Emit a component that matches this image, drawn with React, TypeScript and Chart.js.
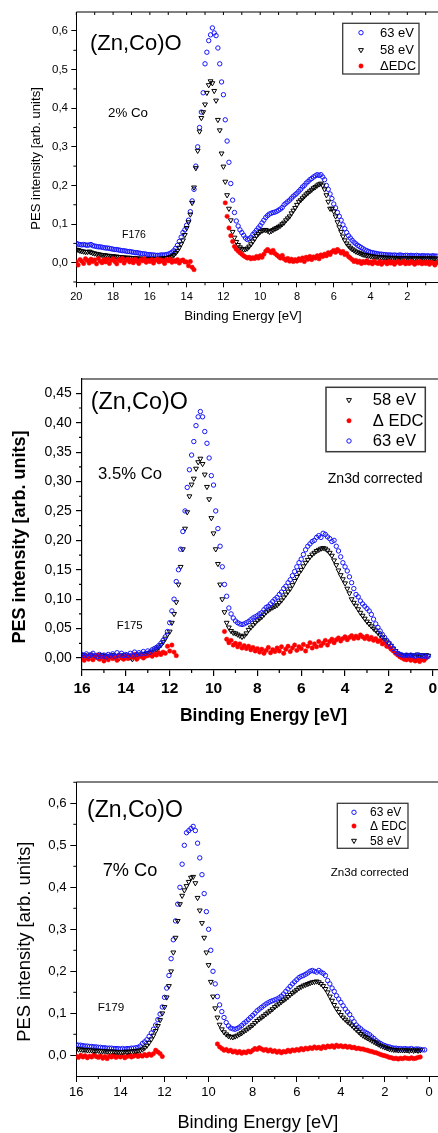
import React, { useEffect, useRef } from "react";
import { Chart, registerables } from "chart.js";

Chart.register(...registerables);

const FF = "'Liberation Sans', Arial, Helvetica, sans-serif";
const f = (size: number, bold = false) => `${bold ? "bold " : ""}${size}px ${FF}`;

// ---------------- tick values ----------------
const P1_XTICKS = [0, 2, 4, 6, 8, 10, 12, 14, 16, 18, 20];
const P1_YTICKS = [0, 0.1, 0.2, 0.3, 0.4, 0.5, 0.6];
const P2_XTICKS = [0, 2, 4, 6, 8, 10, 12, 14, 16];
const P2_YTICKS = [0, 0.05, 0.1, 0.15, 0.2, 0.25, 0.3, 0.35, 0.4, 0.45];
const P3_XTICKS = [0, 2, 4, 6, 8, 10, 12, 14, 16];
const P3_YTICKS = [0, 0.1, 0.2, 0.3, 0.4, 0.5, 0.6];

// ---------------- Panel 1 : 2% Co (F176) ----------------
const P1_ENERGY = [
  20.0, 19.9, 19.8, 19.7, 19.6, 19.5, 19.4, 19.3, 19.2, 19.1,
  19.0, 18.9, 18.8, 18.7, 18.6, 18.5, 18.4, 18.3, 18.2, 18.1,
  18.0, 17.9, 17.8, 17.7, 17.6, 17.5, 17.4, 17.3, 17.2, 17.1,
  17.0, 16.9, 16.8, 16.7, 16.6, 16.5, 16.4, 16.3, 16.2, 16.1,
  16.0, 15.9, 15.8, 15.7, 15.6, 15.5, 15.4, 15.3, 15.2, 15.1,
  15.0, 14.9, 14.8, 14.7, 14.6, 14.5, 14.4, 14.3, 14.2, 14.1,
  14.0, 13.9, 13.8, 13.7, 13.6, 13.5, 13.4, 13.3, 13.2, 13.1,
  13.0, 12.9, 12.8, 12.7, 12.6, 12.5, 12.4, 12.3, 12.2, 12.1,
  12.0, 11.9, 11.8, 11.7, 11.6, 11.5, 11.4, 11.3, 11.2, 11.1,
  11.0, 10.9, 10.8, 10.7, 10.6, 10.5, 10.4, 10.3, 10.2, 10.1,
  10.0, 9.9, 9.8, 9.7, 9.6, 9.5, 9.4, 9.3, 9.2, 9.1,
  9.0, 8.9, 8.8, 8.7, 8.6, 8.5, 8.4, 8.3, 8.2, 8.1,
  8.0, 7.9, 7.8, 7.7, 7.6, 7.5, 7.4, 7.3, 7.2, 7.1,
  7.0, 6.9, 6.8, 6.7, 6.6, 6.5, 6.4, 6.3, 6.2, 6.1,
  6.0, 5.9, 5.8, 5.7, 5.6, 5.5, 5.4, 5.3, 5.2, 5.1,
  5.0, 4.9, 4.8, 4.7, 4.6, 4.5, 4.4, 4.3, 4.2, 4.1,
  4.0, 3.9, 3.8, 3.7, 3.6, 3.5, 3.4, 3.3, 3.2, 3.1,
  3.0, 2.9, 2.8, 2.7, 2.6, 2.5, 2.4, 2.3, 2.2, 2.1,
  2.0, 1.9, 1.8, 1.7, 1.6, 1.5, 1.4, 1.3, 1.2, 1.1,
  1.0, 0.9, 0.8, 0.7, 0.6, 0.5, 0.4,
];
const P1_63EV = [
  0.050, 0.048, 0.047, 0.046, 0.047, 0.046, 0.045, 0.046, 0.047, 0.044,
  0.043, 0.042, 0.041, 0.041, 0.040, 0.039, 0.038, 0.038, 0.037, 0.036,
  0.035, 0.034, 0.034, 0.033, 0.032, 0.031, 0.031, 0.030, 0.029, 0.029,
  0.028, 0.027, 0.026, 0.026, 0.025, 0.024, 0.023, 0.023, 0.022, 0.021,
  0.021, 0.020, 0.020, 0.019, 0.019, 0.019, 0.020, 0.020, 0.020, 0.021,
  0.022, 0.024, 0.027, 0.031, 0.037, 0.045, 0.055, 0.066, 0.078, 0.085,
  0.097, 0.110, 0.132, 0.160, 0.190, 0.250, 0.300, 0.350, 0.390, 0.440,
  0.515, 0.545, 0.575, 0.590, 0.608, 0.595, 0.588, 0.556, 0.515, 0.468,
  0.435, 0.370, 0.315, 0.260, 0.205, 0.162, 0.130, 0.108, 0.095, 0.085,
  0.078, 0.071, 0.064, 0.060, 0.062, 0.066, 0.073, 0.078, 0.084, 0.090,
  0.096, 0.103, 0.110, 0.117, 0.122, 0.126, 0.128, 0.130, 0.131, 0.133,
  0.136, 0.139, 0.143, 0.150, 0.154, 0.158, 0.162, 0.167, 0.172, 0.176,
  0.180, 0.185, 0.190, 0.196, 0.200, 0.206, 0.210, 0.215, 0.218, 0.222,
  0.225, 0.228, 0.226, 0.228, 0.222, 0.215, 0.200, 0.190, 0.178, 0.166,
  0.152, 0.142, 0.130, 0.120, 0.110, 0.098, 0.088, 0.078, 0.070, 0.064,
  0.058, 0.053, 0.049, 0.045, 0.042, 0.039, 0.036, 0.033, 0.031, 0.029,
  0.027, 0.026, 0.025, 0.024, 0.023, 0.022, 0.022, 0.021, 0.021, 0.020,
  0.020, 0.020, 0.019, 0.020, 0.019, 0.019, 0.020, 0.019, 0.018, 0.019,
  0.019, 0.018, 0.019, 0.018, 0.018, 0.019, 0.018, 0.017, 0.018, 0.018,
  0.017, 0.018, 0.017, 0.017, 0.018, 0.017, 0.017,
];
const P1_58EV = [
  0.034, 0.033, 0.031, 0.030, 0.029, 0.028, 0.028, 0.029, 0.027, 0.025,
  0.024, 0.023, 0.022, 0.021, 0.020, 0.020, 0.019, 0.018, 0.018, 0.017,
  0.017, 0.016, 0.016, 0.015, 0.015, 0.014, 0.014, 0.013, 0.013, 0.013,
  0.012, 0.012, 0.012, 0.011, 0.011, 0.011, 0.010, 0.010, 0.010, 0.010,
  0.010, 0.010, 0.010, 0.010, 0.010, 0.010, 0.011, 0.011, 0.012, 0.012,
  0.013, 0.015, 0.017, 0.020, 0.025, 0.031, 0.039, 0.048, 0.058, 0.072,
  0.090, 0.105, 0.125, 0.155, 0.195, 0.245, 0.290, 0.340, 0.375, 0.390,
  0.410, 0.440, 0.460, 0.470, 0.465, 0.445, 0.420, 0.370, 0.343, 0.283,
  0.249, 0.210, 0.175, 0.140, 0.110, 0.080, 0.065, 0.054, 0.046, 0.040,
  0.036, 0.034, 0.035, 0.037, 0.042, 0.048, 0.055, 0.062, 0.070, 0.075,
  0.080, 0.083, 0.085, 0.085, 0.083, 0.080, 0.082, 0.085, 0.088, 0.090,
  0.093, 0.096, 0.100, 0.104, 0.110, 0.115, 0.120, 0.128, 0.135, 0.142,
  0.150, 0.158, 0.162, 0.167, 0.172, 0.177, 0.181, 0.185, 0.189, 0.193,
  0.196, 0.200, 0.203, 0.205, 0.200, 0.190, 0.175, 0.158, 0.140, 0.140,
  0.133, 0.120, 0.105, 0.092, 0.080, 0.068, 0.058, 0.050, 0.044, 0.039,
  0.035, 0.032, 0.029, 0.027, 0.025, 0.023, 0.021, 0.020, 0.019, 0.018,
  0.017, 0.016, 0.016, 0.015, 0.015, 0.014, 0.014, 0.014, 0.013, 0.013,
  0.013, 0.013, 0.012, 0.013, 0.012, 0.012, 0.012, 0.012, 0.012, 0.012,
  0.012, 0.011, 0.012, 0.012, 0.011, 0.012, 0.011, 0.011, 0.012, 0.011,
  0.011, 0.011, 0.012, 0.011, 0.011, 0.011, 0.011,
];
const P1_DEDC = [
  0.002, -0.006, 0.008, 0.004, -0.002, 0.010, 0.006, -0.001, 0.009, 0.003,
  0.007, -0.003, 0.011, 0.004, 0.000, 0.008, 0.002, 0.009, -0.002, 0.006,
  0.010, 0.003, -0.003, 0.008, 0.005, 0.011, -0.001, 0.006, 0.009, 0.002,
  0.007, 0.000, 0.009, 0.004, -0.002, 0.008, 0.005, 0.010, 0.001, 0.006,
  0.003, 0.008, -0.001, 0.006, 0.009, 0.002, 0.007, 0.004, -0.002, 0.008,
  0.005, 0.009, 0.001, 0.006, 0.003, 0.008, -0.001, 0.005, 0.007, 0.002,
  0.002, -0.008, 0.003, -0.012, -0.018, null, null, null, null, null,
  null, null, null, null, null, null, null, null, null, null,
  null, 0.155, 0.120, 0.090, 0.070, 0.055, 0.042, 0.035, 0.030, 0.026,
  0.022, 0.018, 0.015, 0.012, 0.014, 0.010, 0.013, 0.011, 0.016, 0.012,
  0.018, 0.014, 0.022, 0.030, 0.034, 0.030, 0.026, 0.032, 0.024, 0.020,
  0.016, 0.012, 0.019, 0.010, 0.006, 0.011, 0.004, 0.009, 0.003, 0.008,
  0.004, 0.010, 0.006, 0.012, 0.003, 0.014, 0.009, 0.016, 0.008, 0.015,
  0.012, 0.018, 0.010, 0.020, 0.016, 0.022, 0.018, 0.026, 0.021, 0.028,
  0.032, 0.027, 0.034, 0.030, 0.025, 0.029, 0.021, 0.024, 0.016, 0.012,
  0.008, 0.003, 0.006, 0.001, 0.004, -0.002, 0.003, 0.000, 0.005, -0.001,
  0.002, -0.003, 0.004, 0.000, -0.002, 0.003, -0.004, 0.001, 0.002, -0.003,
  0.003, -0.001, 0.002, -0.004, 0.001, 0.003, -0.002, 0.000, 0.004, -0.003,
  0.001, -0.002, 0.003, 0.000, -0.004, 0.002, -0.001, 0.003, -0.003, 0.001,
  -0.002, 0.002, -0.004, 0.001, -0.001, -0.006, 0.000,
];

// ---------------- Panel 2 : 3.5% Co (F175) ----------------
const P2_ENERGY = [
  16.0, 15.9, 15.8, 15.7, 15.6, 15.5, 15.4, 15.3, 15.2, 15.1,
  15.0, 14.9, 14.8, 14.7, 14.6, 14.5, 14.4, 14.3, 14.2, 14.1,
  14.0, 13.9, 13.8, 13.7, 13.6, 13.5, 13.4, 13.3, 13.2, 13.1,
  13.0, 12.9, 12.8, 12.7, 12.6, 12.5, 12.4, 12.3, 12.2, 12.1,
  12.0, 11.9, 11.8, 11.7, 11.6, 11.5, 11.4, 11.3, 11.2, 11.1,
  11.0, 10.9, 10.8, 10.7, 10.6, 10.5, 10.4, 10.3, 10.2, 10.1,
  10.0, 9.9, 9.8, 9.7, 9.6, 9.5, 9.4, 9.3, 9.2, 9.1,
  9.0, 8.9, 8.8, 8.7, 8.6, 8.5, 8.4, 8.3, 8.2, 8.1,
  8.0, 7.9, 7.8, 7.7, 7.6, 7.5, 7.4, 7.3, 7.2, 7.1,
  7.0, 6.9, 6.8, 6.7, 6.6, 6.5, 6.4, 6.3, 6.2, 6.1,
  6.0, 5.9, 5.8, 5.7, 5.6, 5.5, 5.4, 5.3, 5.2, 5.1,
  5.0, 4.9, 4.8, 4.7, 4.6, 4.5, 4.4, 4.3, 4.2, 4.1,
  4.0, 3.9, 3.8, 3.7, 3.6, 3.5, 3.4, 3.3, 3.2, 3.1,
  3.0, 2.9, 2.8, 2.7, 2.6, 2.5, 2.4, 2.3, 2.2, 2.1,
  2.0, 1.9, 1.8, 1.7, 1.6, 1.5, 1.4, 1.3, 1.2, 1.1,
  1.0, 0.9, 0.8, 0.7, 0.6, 0.5, 0.4, 0.3, 0.2,
];
const P2_58EV = [
  0.003, 0.005, 0.002, 0.004, 0.006, 0.002, 0.004, 0.001, 0.003, 0.005,
  0.002, 0.004, 0.001, 0.003, 0.005, 0.002, 0.004, 0.000, 0.003, 0.005,
  0.002, 0.004, 0.001, -0.002, 0.004, 0.003, 0.006, 0.004, 0.007, 0.006,
  0.008, 0.009, 0.011, 0.013, 0.015, 0.018, 0.022, 0.027, 0.033, 0.040,
  0.045, 0.060, 0.075, 0.095, 0.125, 0.155, 0.185, 0.220, 0.248, 0.275,
  0.295, 0.305, 0.322, 0.333, 0.339, 0.330, 0.312, 0.291, 0.270, 0.238,
  0.212, 0.185, 0.160, 0.125, 0.100, 0.078, 0.060, 0.052, 0.046, 0.043,
  0.042, 0.040, 0.038, 0.036, 0.038, 0.042, 0.048, 0.052, 0.056, 0.060,
  0.064, 0.067, 0.070, 0.074, 0.078, 0.081, 0.084, 0.086, 0.088, 0.090,
  0.094, 0.098, 0.103, 0.108, 0.113, 0.118, 0.124, 0.131, 0.138, 0.145,
  0.150, 0.156, 0.162, 0.167, 0.172, 0.176, 0.179, 0.182, 0.184, 0.186,
  0.187, 0.186, 0.183, 0.179, 0.174, 0.166, 0.158, 0.149, 0.141, 0.134,
  0.127, 0.118, 0.110, 0.100, 0.094, 0.089, 0.083, 0.077, 0.072, 0.067,
  0.062, 0.058, 0.054, 0.050, 0.047, 0.043, 0.039, 0.035, 0.031, 0.028,
  0.025, 0.021, 0.016, 0.012, 0.008, 0.006, 0.004, 0.005, 0.004, 0.005,
  0.004, 0.005, 0.003, 0.006, 0.004, 0.005, 0.003, 0.005, 0.004,
];
const P2_DEDC = [
  0.000, -0.004, 0.003, -0.002, 0.004, -0.003, 0.001, 0.005, -0.002, 0.002,
  -0.005, 0.001, -0.003, 0.003, -0.001, 0.002, -0.004, 0.004, 0.000, -0.002,
  0.003, -0.001, 0.004, 0.001, 0.006, -0.002, 0.002, 0.005, 0.000, 0.003,
  0.004, 0.006, 0.003, 0.007, 0.005, 0.009, 0.006, 0.010, 0.008, 0.020,
  0.012, 0.022, 0.010, 0.004, null, null, null, null, null, null,
  null, null, null, null, null, null, null, null, null, null,
  null, null, null, null, null, 0.045, 0.032, 0.026, 0.030, 0.022,
  0.025, 0.019, 0.024, 0.017, 0.021, 0.016, 0.020, 0.014, 0.018, 0.012,
  0.016, 0.010, 0.015, 0.008, 0.013, 0.018, 0.009, 0.014, 0.011, 0.017,
  0.012, 0.019, 0.008, 0.015, 0.020, 0.011, 0.017, 0.022, 0.013, 0.019,
  0.016, 0.023, 0.012, 0.020, 0.026, 0.017, 0.024, 0.019, 0.028, 0.021,
  0.025, 0.030, 0.022, 0.028, 0.032, 0.026, 0.031, 0.034, 0.029, 0.033,
  0.036, 0.031, 0.035, 0.038, 0.033, 0.037, 0.034, 0.039, 0.036, 0.033,
  0.037, 0.032, 0.035, 0.030, 0.033, 0.028, 0.030, 0.024, 0.026, 0.020,
  0.019, 0.015, 0.012, 0.008, 0.005, 0.002, 0.000, -0.002, -0.003, -0.001,
  -0.004, -0.002, -0.005, -0.003, -0.006, -0.002, -0.004, 0.000, null,
];
const P2_63EV = [
  0.006, 0.004, 0.007, 0.003, 0.005, 0.008, 0.004, 0.002, 0.006, 0.003,
  0.005, 0.002, 0.006, 0.004, 0.007, 0.003, 0.009, 0.005, 0.008, 0.004,
  0.006, 0.004, 0.008, 0.005, 0.010, 0.006, 0.009, 0.007, 0.011, 0.008,
  0.012, 0.010, 0.014, 0.016, 0.018, 0.021, 0.025, 0.030, 0.036, 0.045,
  0.060, 0.080, 0.100, 0.130, 0.150, 0.185, 0.215, 0.250, 0.290, 0.320,
  0.345, 0.368, 0.395, 0.410, 0.419, 0.410, 0.385, 0.365, 0.340, 0.310,
  0.294, 0.250, 0.220, 0.190, 0.155, 0.125, 0.105, 0.085, 0.075, 0.068,
  0.063, 0.060, 0.058, 0.057, 0.058, 0.060, 0.062, 0.065, 0.068, 0.070,
  0.072, 0.075, 0.077, 0.082, 0.086, 0.088, 0.092, 0.096, 0.100, 0.103,
  0.108, 0.112, 0.118, 0.122, 0.128, 0.133, 0.140, 0.147, 0.155, 0.162,
  0.168, 0.176, 0.184, 0.190, 0.194, 0.198, 0.200, 0.205, 0.208, 0.205,
  0.212, 0.210, 0.206, 0.203, 0.198, 0.200, 0.190, 0.182, 0.172, 0.162,
  0.155, 0.148, 0.138, 0.128, 0.118, 0.108, 0.104, 0.097, 0.092, 0.088,
  0.084, 0.080, 0.074, 0.066, 0.058, 0.052, 0.046, 0.040, 0.035, 0.030,
  0.025, 0.020, 0.016, 0.011, 0.008, 0.006, 0.005, 0.004, 0.005, 0.004,
  0.005, 0.004, 0.003, 0.005, 0.004, 0.003, 0.004, 0.002, 0.003,
];

// ---------------- Panel 3 : 7% Co (F179) ----------------
const P3_ENERGY = [
  16.0, 15.9, 15.8, 15.7, 15.6, 15.5, 15.4, 15.3, 15.2, 15.1,
  15.0, 14.9, 14.8, 14.7, 14.6, 14.5, 14.4, 14.3, 14.2, 14.1,
  14.0, 13.9, 13.8, 13.7, 13.6, 13.5, 13.4, 13.3, 13.2, 13.1,
  13.0, 12.9, 12.8, 12.7, 12.6, 12.5, 12.4, 12.3, 12.2, 12.1,
  12.0, 11.9, 11.8, 11.7, 11.6, 11.5, 11.4, 11.3, 11.2, 11.1,
  11.0, 10.9, 10.8, 10.7, 10.6, 10.5, 10.4, 10.3, 10.2, 10.1,
  10.0, 9.9, 9.8, 9.7, 9.6, 9.5, 9.4, 9.3, 9.2, 9.1,
  9.0, 8.9, 8.8, 8.7, 8.6, 8.5, 8.4, 8.3, 8.2, 8.1,
  8.0, 7.9, 7.8, 7.7, 7.6, 7.5, 7.4, 7.3, 7.2, 7.1,
  7.0, 6.9, 6.8, 6.7, 6.6, 6.5, 6.4, 6.3, 6.2, 6.1,
  6.0, 5.9, 5.8, 5.7, 5.6, 5.5, 5.4, 5.3, 5.2, 5.1,
  5.0, 4.9, 4.8, 4.7, 4.6, 4.5, 4.4, 4.3, 4.2, 4.1,
  4.0, 3.9, 3.8, 3.7, 3.6, 3.5, 3.4, 3.3, 3.2, 3.1,
  3.0, 2.9, 2.8, 2.7, 2.6, 2.5, 2.4, 2.3, 2.2, 2.1,
  2.0, 1.9, 1.8, 1.7, 1.6, 1.5, 1.4, 1.3, 1.2, 1.1,
  1.0, 0.9, 0.8, 0.7, 0.6, 0.5, 0.4, 0.3, 0.2,
];
const P3_63EV = [
  0.025, 0.024, 0.024, 0.023, 0.022, 0.022, 0.021, 0.021, 0.020, 0.020,
  0.019, 0.019, 0.018, 0.018, 0.017, 0.017, 0.017, 0.016, 0.016, 0.016,
  0.015, 0.016, 0.015, 0.016, 0.016, 0.017, 0.017, 0.018, 0.019, 0.022,
  0.028, 0.032, 0.037, 0.045, 0.053, 0.062, 0.072, 0.085, 0.098, 0.115,
  0.138, 0.160, 0.190, 0.230, 0.275, 0.320, 0.360, 0.400, 0.455, 0.500,
  0.530, 0.535, 0.540, 0.545, 0.535, 0.505, 0.470, 0.430, 0.385, 0.342,
  0.300, 0.250, 0.200, 0.170, 0.140, 0.120, 0.104, 0.090, 0.078, 0.070,
  0.065, 0.063, 0.062, 0.064, 0.067, 0.071, 0.076, 0.080, 0.085, 0.090,
  0.095, 0.100, 0.106, 0.110, 0.114, 0.118, 0.122, 0.125, 0.128, 0.130,
  0.132, 0.134, 0.137, 0.141, 0.146, 0.152, 0.158, 0.164, 0.170, 0.175,
  0.180, 0.185, 0.188, 0.190, 0.193, 0.196, 0.200, 0.202, 0.200, 0.198,
  0.202, 0.198, 0.195, 0.190, 0.178, 0.170, 0.160, 0.152, 0.142, 0.134,
  0.126, 0.118, 0.110, 0.103, 0.097, 0.088, 0.080, 0.072, 0.067, 0.063,
  0.058, 0.055, 0.052, 0.049, 0.044, 0.040, 0.035, 0.031, 0.028, 0.025,
  0.023, 0.021, 0.020, 0.018, 0.017, 0.017, 0.016, 0.016, 0.015, 0.016,
  0.015, 0.015, 0.016, 0.014, 0.015, 0.015, 0.014, 0.013, 0.013,
];
const P3_DEDC = [
  -0.002, -0.005, 0.000, -0.004, -0.001, -0.006, -0.002, -0.004, 0.001, -0.003,
  -0.005, -0.001, -0.007, -0.003, -0.008, -0.002, -0.004, 0.000, -0.005, -0.002,
  -0.004, -0.001, -0.006, -0.003, 0.000, -0.004, -0.002, 0.001, -0.003, 0.000,
  -0.002, 0.002, -0.001, 0.003, 0.000, 0.004, 0.012, 0.008, 0.004, -0.003,
  null, null, null, null, null, null, null, null, null, null,
  null, null, null, null, null, null, null, null, null, null,
  null, null, null, null, 0.027, 0.020, 0.016, 0.012, 0.014, 0.010,
  0.012, 0.008, 0.010, 0.006, 0.009, 0.005, 0.008, 0.006, 0.010, 0.008,
  0.012, 0.016, 0.014, 0.018, 0.015, 0.012, 0.014, 0.010, 0.013, 0.009,
  0.011, 0.007, 0.010, 0.006, 0.009, 0.008, 0.012, 0.009, 0.013, 0.011,
  0.014, 0.012, 0.016, 0.013, 0.017, 0.015, 0.018, 0.016, 0.020, 0.017,
  0.019, 0.016, 0.021, 0.018, 0.022, 0.020, 0.023, 0.019, 0.024, 0.021,
  0.023, 0.020, 0.022, 0.019, 0.021, 0.018, 0.019, 0.016, 0.017, 0.015,
  0.015, 0.013, 0.012, 0.010, 0.009, 0.007, 0.006, 0.004, 0.002, 0.000,
  -0.001, -0.003, -0.005, -0.006, -0.008, -0.007, -0.009, -0.007, -0.008, -0.006,
  -0.007, -0.008, -0.006, -0.008, -0.007, -0.005, -0.004, null, null,
];
const P3_58EV = [
  0.015, 0.014, 0.014, 0.013, 0.013, 0.012, 0.012, 0.012, 0.011, 0.011,
  0.011, 0.010, 0.010, 0.010, 0.009, 0.009, 0.009, 0.009, 0.008, 0.008,
  0.008, 0.008, 0.009, 0.008, 0.009, 0.009, 0.010, 0.010, 0.011, 0.012,
  0.014, 0.018, 0.023, 0.030, 0.038, 0.047, 0.058, 0.070, 0.084, 0.100,
  0.115, 0.138, 0.165, 0.200, 0.245, 0.280, 0.320, 0.360, 0.380, 0.393,
  0.403, 0.413, 0.423, 0.425, 0.410, 0.375, 0.345, 0.315, 0.280, 0.245,
  0.215, 0.175, 0.140, 0.112, 0.090, 0.073, 0.062, 0.055, 0.050, 0.046,
  0.044, 0.043, 0.045, 0.047, 0.050, 0.053, 0.057, 0.060, 0.064, 0.068,
  0.072, 0.077, 0.082, 0.086, 0.090, 0.094, 0.098, 0.102, 0.106, 0.110,
  0.115, 0.119, 0.123, 0.127, 0.131, 0.135, 0.139, 0.144, 0.148, 0.152,
  0.156, 0.160, 0.163, 0.166, 0.168, 0.170, 0.172, 0.174, 0.175, 0.176,
  0.174, 0.170, 0.165, 0.158, 0.150, 0.140, 0.130, 0.120, 0.111, 0.103,
  0.096, 0.090, 0.085, 0.080, 0.076, 0.071, 0.066, 0.061, 0.056, 0.051,
  0.047, 0.044, 0.041, 0.038, 0.035, 0.032, 0.029, 0.026, 0.023, 0.021,
  0.019, 0.017, 0.015, 0.014, 0.013, 0.013, 0.012, 0.012, 0.012, 0.012,
  0.012, 0.011, 0.012, 0.011, 0.012, 0.011, 0.012, null, null,
];

// ---------------- styles ----------------
type Kind = "c63" | "t58" | "dEDC";
const MARK: Record<Kind, { style: string; r: number; stroke: string; fill: string; lw: number; rot: number }> = {
  c63: { style: "circle", r: 2.2, stroke: "#1414ff", fill: "rgba(0,0,0,0)", lw: 1, rot: 0 },
  t58: { style: "triangle", r: 2.8, stroke: "#000000", fill: "rgba(0,0,0,0)", lw: 1, rot: 180 },
  dEDC: { style: "circle", r: 2.2, stroke: "#ff0000", fill: "#ff0000", lw: 0.5, rot: 0 },
};

interface SeriesCfg { kind: Kind; label: string; values: (number | null)[] }
interface TextCfg { text: string; x: number; y: number; font: string; align?: CanvasTextAlign; baseline?: CanvasTextBaseline; rotate?: boolean }
interface AxisCfg { min: number; max: number; step: number; ticks: number[]; size: number; bold: boolean; pad: number; dec: number }
interface PanelCfg {
  top: number; width: number; height: number;
  area: { left: number; top: number; right: number; bottom: number };
  energies: number[]; series: SeriesCfg[];
  x: AxisCfg; y: AxisCfg;
  majorLen: number; minorLen: number; axisWidth: number; topTicks: boolean;
  legend: { x: number; y: number; w: number; h: number; mx: number; tx: number; rows: number[]; font: string; lw: number };
  texts: TextCfg[];
}

const PANELS: PanelCfg[] = [
  {
    top: 0, width: 448, height: 340,
    area: { left: 76.3, top: 12, right: 444.1, bottom: 282.3 },
    energies: P1_ENERGY,
    series: [
      { kind: "c63", label: "63 eV", values: P1_63EV },
      { kind: "t58", label: "58 eV", values: P1_58EV },
      { kind: "dEDC", label: "\u0394EDC", values: P1_DEDC },
    ],
    x: { min: 0, max: 20, step: 2, ticks: P1_XTICKS, size: 11, bold: false, pad: 3, dec: 0 },
    y: { min: -0.0508, max: 0.6492, step: 0.1, ticks: P1_YTICKS, size: 11.5, bold: false, pad: 3.3, dec: 1 },
    majorLen: 5, minorLen: 3, axisWidth: 1, topTicks: true,
    legend: { x: 342.7, y: 23.3, w: 76.3, h: 50.7, mx: 361, tx: 380, rows: [32.7, 50, 66], font: f(13), lw: 1.3 },
    texts: [
      { text: "(Zn,Co)O", x: 90, y: 49.5, font: f(22) },
      { text: "2% Co", x: 108, y: 117, font: f(13.3) },
      { text: "F176", x: 122, y: 238, font: f(10.5) },
      { text: "Binding Energy [eV]", x: 243, y: 316.7, font: f(13.3), align: "center", baseline: "middle" },
      { text: "PES intensity [arb. units]", x: 36, y: 158.5, font: f(13.1), align: "center", baseline: "middle", rotate: true },
    ],
  },
  {
    top: 370, width: 446, height: 360,
    area: { left: 82, top: 9, right: 443.7, bottom: 300 },
    energies: P2_ENERGY,
    series: [
      { kind: "t58", label: "58 eV", values: P2_58EV },
      { kind: "dEDC", label: "\u0394 EDC", values: P2_DEDC },
      { kind: "c63", label: "63 eV", values: P2_63EV },
    ],
    x: { min: -0.5, max: 16, step: 2, ticks: P2_XTICKS, size: 15.5, bold: true, pad: 3, dec: 0 },
    y: { min: -0.0204, max: 0.4743, step: 0.05, ticks: P2_YTICKS, size: 14, bold: false, pad: 4.3, dec: 2 },
    majorLen: 6, minorLen: 3, axisWidth: 1.2, topTicks: false,
    legend: { x: 326, y: 17.3, w: 99.3, h: 64.4, mx: 349, tx: 372.7, rows: [30, 50.7, 71], font: f(16.6), lw: 1.5 },
    texts: [
      { text: "(Zn,Co)O", x: 90.7, y: 39.3, font: f(23.3) },
      { text: "3.5% Co", x: 98, y: 109.3, font: f(16.7) },
      { text: "Zn3d corrected", x: 327.7, y: 113.3, font: f(14.1) },
      { text: "F175", x: 116.7, y: 259, font: f(11.4) },
      { text: "Binding Energy [eV]", x: 263.5, y: 346, font: f(17.5, true), align: "center", baseline: "middle" },
      { text: "PES intensity [arb. units]", x: 20, y: 167, font: f(18, true), align: "center", baseline: "middle", rotate: true },
    ],
  },
  {
    top: 775, width: 444, height: 358,
    area: { left: 76.3, top: 7, right: 440.1, bottom: 301 },
    energies: P3_ENERGY,
    series: [
      { kind: "c63", label: "63 eV", values: P3_63EV },
      { kind: "dEDC", label: "\u0394 EDC", values: P3_DEDC },
      { kind: "t58", label: "58 eV", values: P3_58EV },
    ],
    x: { min: -0.5, max: 16, step: 2, ticks: P3_XTICKS, size: 13, bold: false, pad: 2.5, dec: 0 },
    y: { min: -0.0493, max: 0.6507, step: 0.1, ticks: P3_YTICKS, size: 13.2, bold: false, pad: 3.6, dec: 1 },
    majorLen: 6, minorLen: 3, axisWidth: 1, topTicks: false,
    legend: { x: 337.3, y: 28.3, w: 70.7, h: 45, mx: 354, tx: 370, rows: [37.3, 51, 65.7], font: f(12), lw: 1.3 },
    texts: [
      { text: "(Zn,Co)O", x: 87, y: 42, font: f(23) },
      { text: "7% Co", x: 102.7, y: 101, font: f(18.2) },
      { text: "Zn3d corrected", x: 330.7, y: 101, font: f(11.6) },
      { text: "F179", x: 97.7, y: 235.7, font: f(11.7) },
      { text: "Binding Energy [eV]", x: 257.8, y: 347.5, font: f(18.2), align: "center", baseline: "middle" },
      { text: "PES intensity [arb. units]", x: 25, y: 166.7, font: f(18.4), align: "center", baseline: "middle", rotate: true },
    ],
  },
];

function drawMarker(ctx: CanvasRenderingContext2D, kind: Kind, x: number, y: number) {
  const m = MARK[kind];
  ctx.beginPath();
  if (kind === "t58") {
    ctx.moveTo(x, y + m.r);
    ctx.lineTo(x - m.r * 0.866, y - m.r * 0.5);
    ctx.lineTo(x + m.r * 0.866, y - m.r * 0.5);
    ctx.closePath();
  } else {
    ctx.arc(x, y, m.r, 0, Math.PI * 2);
  }
  ctx.fillStyle = m.fill;
  ctx.fill();
  ctx.lineWidth = m.lw;
  ctx.strokeStyle = m.stroke;
  ctx.stroke();
}

function makeFramePlugin(cfg: PanelCfg) {
  return {
    id: "originFrame",
    afterDraw(chart: any) {
      const ctx: CanvasRenderingContext2D = chart.ctx;
      const a = chart.chartArea;
      const xs = chart.scales.x;
      const ys = chart.scales.y;
      ctx.save();
      ctx.strokeStyle = "#000";
      ctx.lineWidth = cfg.axisWidth;
      ctx.beginPath();
      ctx.moveTo(a.left, a.top);
      ctx.lineTo(a.right, a.top);
      if (cfg.topTicks) {
        for (let v = Math.ceil(cfg.x.min); v <= cfg.x.max; v++) {
          const px = xs.getPixelForValue(v);
          ctx.moveTo(px, a.top);
          ctx.lineTo(px, a.top + cfg.minorLen);
        }
      }
      for (let v = Math.ceil(cfg.x.min); v <= cfg.x.max; v++) {
        if (Math.abs(v % cfg.x.step) < 1e-9) continue;
        const px = xs.getPixelForValue(v);
        ctx.moveTo(px, a.bottom);
        ctx.lineTo(px, a.bottom + cfg.minorLen);
      }
      const half = cfg.y.step / 2;
      for (let k = Math.floor(cfg.y.min / half); k * half <= cfg.y.max; k++) {
        if (k % 2 === 0) continue;
        const v = k * half;
        if (v < cfg.y.min) continue;
        const py = ys.getPixelForValue(v);
        ctx.moveTo(a.left, py);
        ctx.lineTo(a.left - cfg.minorLen, py);
      }
      ctx.stroke();

      // legend
      const L = cfg.legend;
      ctx.lineWidth = L.lw;
      ctx.strokeStyle = "#3a3a3a";
      ctx.strokeRect(L.x, L.y, L.w, L.h);
      ctx.font = L.font;
      ctx.textAlign = "left";
      ctx.textBaseline = "middle";
      cfg.series.forEach((s, i) => {
        drawMarker(ctx, s.kind, L.mx, L.rows[i]);
        ctx.fillStyle = "#000";
        ctx.fillText(s.label, L.tx, L.rows[i] + 0.5);
      });

      // texts
      ctx.fillStyle = "#000";
      for (const t of cfg.texts) {
        ctx.font = t.font;
        ctx.textAlign = t.align || "left";
        ctx.textBaseline = t.baseline || "alphabetic";
        if (t.rotate) {
          ctx.save();
          ctx.translate(t.x, t.y);
          ctx.rotate(-Math.PI / 2);
          ctx.fillText(t.text, 0, 0);
          ctx.restore();
        } else {
          ctx.fillText(t.text, t.x, t.y);
        }
      }
      ctx.restore();
    },
  };
}

function Panel({ cfg }: { cfg: PanelCfg }) {
  const ref = useRef<HTMLCanvasElement>(null);
  useEffect(() => {
    const canvas = ref.current;
    if (!canvas) return;
    const datasets = cfg.series.map((s, i) => {
      const m = MARK[s.kind];
      const pts: { x: number; y: number }[] = [];
      cfg.energies.forEach((e, k) => {
        const v = s.values[k];
        if (v !== null && v !== undefined) pts.push({ x: e, y: v });
      });
      return {
        label: s.label,
        data: pts,
        showLine: false,
        pointStyle: m.style,
        pointRadius: m.r,
        pointHoverRadius: m.r,
        pointBorderColor: m.stroke,
        pointBackgroundColor: m.fill,
        pointBorderWidth: m.lw,
        pointRotation: m.rot,
        borderColor: m.stroke,
        backgroundColor: m.fill,
        order: cfg.series.length - 1 - i,
      };
    });
    const xAxisH = cfg.height - cfg.area.bottom;
    const yAxisW = cfg.area.left;
    const fmtY = (v: number) => {
      const s = Math.abs(v) < 1e-9 ? 0 : v;
      return s.toFixed(cfg.y.dec).replace(".", ",");
    };
    const chart = new Chart(canvas, {
      type: "scatter",
      data: { datasets } as any,
      options: {
        responsive: false,
        maintainAspectRatio: false,
        animation: false,
        devicePixelRatio: 1,
        events: [],
        layout: {
          autoPadding: false,
          padding: { top: cfg.area.top, left: 0, bottom: 0, right: cfg.width - cfg.area.right },
        },
        plugins: { legend: { display: false }, tooltip: { enabled: false }, title: { display: false } },
        scales: {
          x: {
            type: "linear",
            reverse: true,
            bounds: "data",
            min: cfg.x.min,
            max: cfg.x.max,
            afterBuildTicks: (s: any) => { s.ticks = cfg.x.ticks.map((v) => ({ value: v })); },
            afterFit: (s: any) => { s.height = xAxisH; s.paddingLeft = 0; s.paddingRight = 0; },
            ticks: {
              autoSkip: false,
              maxRotation: 0,
              minRotation: 0,
              padding: cfg.x.pad,
              color: "#000",
              font: { family: FF, size: cfg.x.size, weight: cfg.x.bold ? "bold" : "normal" },
              callback: (v: any) => String(Number(v)),
            },
            grid: { drawOnChartArea: false, drawTicks: true, tickLength: cfg.majorLen, color: "#000", tickColor: "#000", lineWidth: cfg.axisWidth },
            border: { display: true, color: "#000", width: cfg.axisWidth },
          },
          y: {
            type: "linear",
            bounds: "data",
            min: cfg.y.min,
            max: cfg.y.max,
            afterBuildTicks: (s: any) => { s.ticks = cfg.y.ticks.map((v) => ({ value: v })); },
            afterFit: (s: any) => { s.width = yAxisW; s.paddingTop = 0; s.paddingBottom = 0; },
            ticks: {
              autoSkip: false,
              padding: cfg.y.pad,
              color: "#000",
              font: { family: FF, size: cfg.y.size, weight: cfg.y.bold ? "bold" : "normal" },
              callback: (v: any) => fmtY(Number(v)),
            },
            grid: { drawOnChartArea: false, drawTicks: true, tickLength: cfg.majorLen, color: "#000", tickColor: "#000", lineWidth: cfg.axisWidth },
            border: { display: true, color: "#000", width: cfg.axisWidth },
          },
        },
      } as any,
      plugins: [makeFramePlugin(cfg)],
    });
    return () => chart.destroy();
  }, [cfg]);
  return (
    <canvas
      ref={ref}
      width={cfg.width}
      height={cfg.height}
      style={{ position: "absolute", left: 0, top: cfg.top, width: cfg.width, height: cfg.height, display: "block" }}
    />
  );
}

export default function App() {
  return (
    <div
      style={{
        position: "absolute",
        left: 0,
        top: 0,
        width: 438,
        height: 1133,
        overflow: "hidden",
        background: "#ffffff",
      }}
    >
      {PANELS.map((p, i) => (
        <Panel key={i} cfg={p} />
      ))}
    </div>
  );
}
